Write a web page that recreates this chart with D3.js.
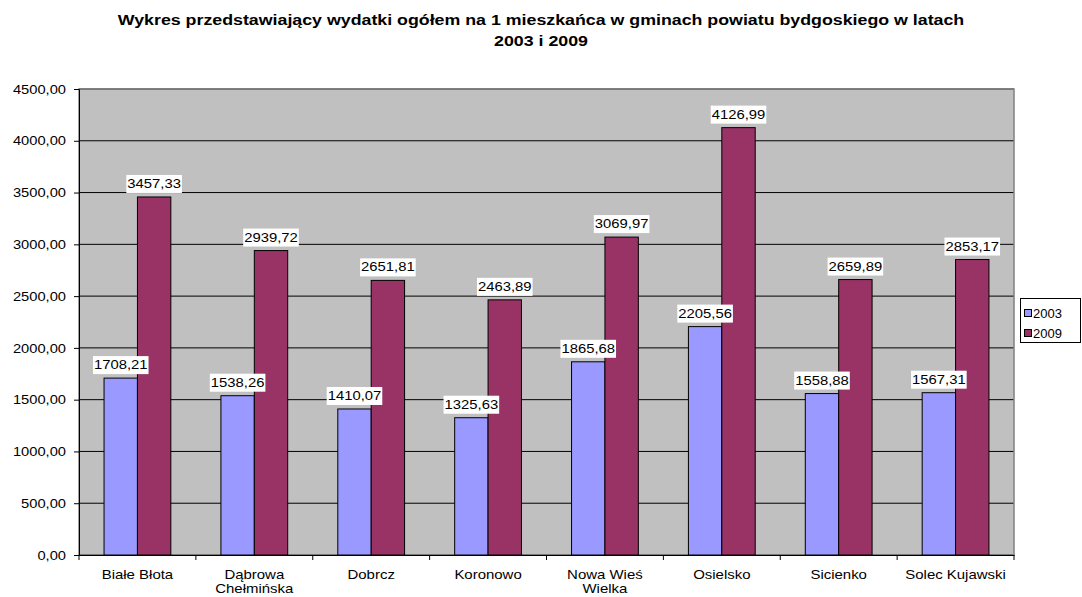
<!DOCTYPE html>
<html><head><meta charset="utf-8">
<script src="https://cdn.jsdelivr.net/npm/d3@7"></script>
<style>body{margin:0;background:#fff;}svg{display:block;font-family:"Liberation Sans",Arial,sans-serif;}</style>
</head><body>
<svg id="c" width="1082" height="597"></svg>
<script>
const categories = ["Białe Błota","Dąbrowa Chełmińska","Dobrcz","Koronowo","Nowa Wieś Wielka","Osielsko","Sicienko","Solec Kujawski"];
const seriesNames = ["2003","2009"];
const values2003 = [1708.21,1538.26,1410.07,1325.63,1865.68,2205.56,1558.88,1567.31];
const values2009 = [3457.33,2939.72,2651.81,2463.89,3069.97,4126.99,2659.89,2853.17];
const yTicks = [0,500,1000,1500,2000,2500,3000,3500,4000,4500];
const colors = ["#9999FF","#993366"];
const titleLines = ["Wykres przedstawiający wydatki ogółem na 1 mieszkańca w gminach powiatu bydgoskiego w latach","2003 i 2009"];

const svg = d3.select("#c");
const L=79, R=1014, T=89, B=555;
const fmt = v => d3.format(".2f")(v).replace(".", ",");
// horizontal stretch to match the reference's wide glyphs
function stretch(sel, sx){
  sel.each(function(){
    const w = this.getComputedTextLength();
    if(w>0) d3.select(this).attr("textLength", w*sx).attr("lengthAdjust","spacingAndGlyphs");
  });
}

const tt = svg.append("g").selectAll("text").data(titleLines).join("text")
  .attr("x",541).attr("y",(d,i)=>25+i*21).attr("text-anchor","middle")
  .attr("font-weight","bold").attr("font-size",14).text(d=>d);
stretch(tt,1.27);

const x = d3.scaleBand().domain(categories).range([L,R]);
const y = d3.scaleLinear().domain([0,4500]).range([B,T]);
const barW = x.bandwidth()/3.5;

svg.append("rect").attr("x",L).attr("y",T).attr("width",R-L).attr("height",B-T).attr("fill","#C0C0C0");
svg.append("g").selectAll("line").data(yTicks).join("line")
  .attr("x1",L).attr("x2",R).attr("y1",d=>y(d)).attr("y2",d=>y(d)).attr("stroke","#000").attr("stroke-width",1);
svg.append("rect").attr("x",L).attr("y",T).attr("width",R-L).attr("height",B-T).attr("fill","none").attr("stroke","#808080").attr("stroke-width",1.5);

const data = categories.map((c,i)=>({c, v:[values2003[i],values2009[i]]}));
const g = svg.append("g");
data.forEach(d=>{
  d.v.forEach((v,s)=>{
    const bx = x(d.c)+x.bandwidth()/2 - barW + s*barW;
    g.append("rect").attr("x",bx).attr("y",y(v)).attr("width",barW).attr("height",B-y(v))
      .attr("fill",colors[s]).attr("stroke","#000").attr("stroke-width",1);
  });
});
// labels
data.forEach(d=>{
  d.v.forEach((v,s)=>{
    const cx = x(d.c)+x.bandwidth()/2 - barW + s*barW + barW/2;
    const t = g.append("text").attr("x",cx).attr("y",y(v)-9).attr("text-anchor","middle")
      .attr("font-size",13).attr("fill","#000").text(fmt(v));
    stretch(t,1.14);
    const bb = t.node().getBBox();
    g.insert("rect","text").attr("x",bb.x-1).attr("y",bb.y-1).attr("width",bb.width+2).attr("height",bb.height+3).attr("fill","#fff");
  });
});

// y axis
const ya = svg.append("g").attr("transform",`translate(${L},0)`)
  .call(d3.axisLeft(y).tickValues(yTicks).tickFormat(fmt).tickSize(5).tickPadding(8));
ya.select(".domain").attr("stroke","#000");
ya.selectAll("text").attr("font-size",13).attr("font-family","Liberation Sans, Arial, sans-serif").attr("fill","#000");
stretch(ya.selectAll("text"),1.13);
// x axis
const xa = svg.append("g").attr("transform",`translate(0,${B})`)
  .call(d3.axisBottom(x).tickSize(0).tickFormat(""));
xa.select(".domain").attr("stroke","#000");
svg.append("g").selectAll("line").data(d3.range(categories.length+1)).join("line")
  .attr("x1",i=>L+i*x.step()).attr("x2",i=>L+i*x.step()).attr("y1",B).attr("y2",B+5).attr("stroke","#000");
// x labels with wrap
categories.forEach(c=>{
  const t = svg.append("text").attr("x",x(c)+x.bandwidth()/2).attr("y",579).attr("text-anchor","middle").attr("font-size",13);
  const words = c.split(" ");
  let line=[], lines=[];
  const probe = svg.append("text").attr("font-size",13);
  words.forEach(w=>{
    const test=[...line,w].join(" ");
    probe.text(test);
    if(probe.node().getComputedTextLength()>90 && line.length){lines.push(line.join(" "));line=[w];}
    else line.push(w);
  });
  lines.push(line.join(" "));
  probe.remove();
  lines.forEach((l,i)=>{
    const ts = t.append("tspan").attr("x",x(c)+x.bandwidth()/2).attr("dy",i?14:0).text(l);
    stretch(ts,1.15);
  });
});

// legend
const lg = svg.append("g");
lg.append("rect").attr("x",1020.5).attr("y",298.5).attr("width",60).attr("height",44).attr("fill","#fff").attr("stroke","#000");
seriesNames.forEach((n,i)=>{
  lg.append("rect").attr("x",1024.5).attr("y",309.5+i*20).attr("width",7).attr("height",7).attr("fill",colors[i]).attr("stroke","#000");
  const lt = lg.append("text").attr("x",1033).attr("y",318+i*20).attr("font-size",13).text(n);
});
</script>
</body></html>
